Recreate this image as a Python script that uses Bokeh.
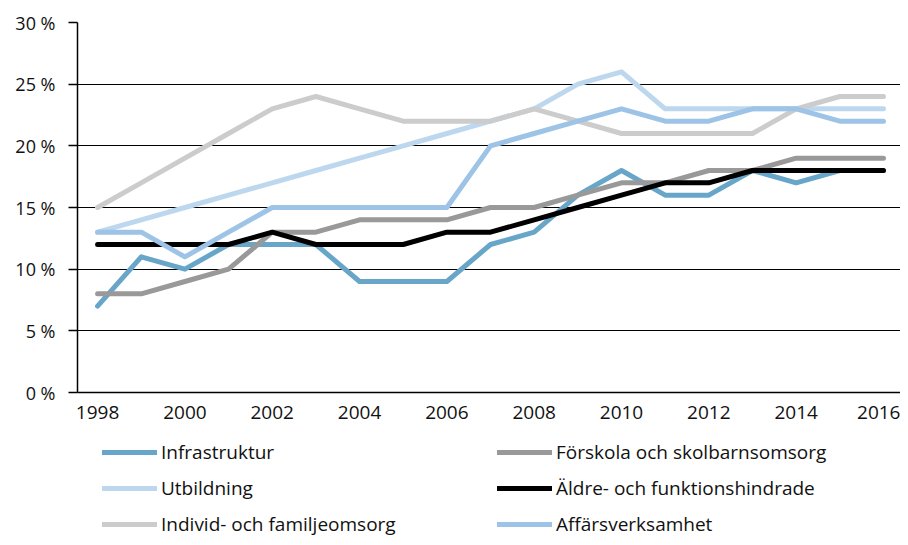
from bokeh.plotting import figure
from bokeh.layouts import column
from bokeh.models import Range1d, FixedTicker, Legend, LegendItem
from bokeh.embed import file_html
from bokeh.resources import INLINE

years = list(range(1998, 2017))
infrastruktur = [7, 11, 10, 12, 12, 12, 9, 9, 9, 12, 13, 16, 18, 16, 16, 18, 17, 18, 18]
forskola = [8, 8, 9, 10, 13, 13, 14, 14, 14, 15, 15, 16, 17, 17, 18, 18, 19, 19, 19]
utbildning = [13, 14, 15, 16, 17, 18, 19, 20, 21, 22, 23, 25, 26, 23, 23, 23, 23, 23, 23]
aldre = [12, 12, 12, 12, 13, 12, 12, 12, 13, 13, 14, 15, 16, 17, 17, 18, 18, 18, 18]
individ = [15, 17, 19, 21, 23, 24, 23, 22, 22, 22, 23, 22, 21, 21, 21, 21, 23, 24, 24]
affars = [13, 13, 11, 13, 15, 15, 15, 15, 15, 20, 21, 22, 23, 22, 22, 23, 23, 22, 22]

names = ["Infrastruktur", "Förskola och skolbarnsomsorg", "Utbildning",
         "Äldre- och funktionshindrade", "Individ- och familjeomsorg", "Affärsverksamhet"]
series = [infrastruktur, forskola, utbildning, aldre, individ, affars]
colors = ["#68a6c9", "#999999", "#bdd7ee", "#000000", "#cccccc", "#9dc3e6"]

y_ticks = [0, 5, 10, 15, 20, 25, 30]
y_labels = ["0 %", "5 %", "10 %", "15 %", "20 %", "25 %", "30 %"]
x_ticks = list(range(1998, 2017, 2))

FONT = "Open Sans"
LW = 5

p = figure(width=900, height=432, output_backend="svg", toolbar_location=None,
           x_range=Range1d(1997.54, 2016.39), y_range=Range1d(0, 30),
           min_border_left=77, min_border_right=0, min_border_top=22, min_border_bottom=40)
p.outline_line_color = None

p.xaxis.ticker = FixedTicker(ticks=x_ticks)
p.xaxis.major_tick_out = 0
p.xaxis.major_tick_in = 0
p.xaxis.minor_tick_out = 0
p.xaxis.minor_tick_in = 0
p.xaxis.axis_line_color = "#000000"
p.xaxis.axis_line_width = 1.3
p.xaxis.major_label_standoff = 13
p.xaxis.major_label_text_font = FONT
p.xaxis.major_label_text_font_size = "19px"
p.xaxis.major_label_text_color = "#111111"

p.yaxis.ticker = FixedTicker(ticks=y_ticks)
p.yaxis.major_label_overrides = {t: l for t, l in zip(y_ticks, y_labels)}
p.yaxis.major_tick_out = 9
p.yaxis.major_tick_in = 0
p.yaxis.minor_tick_out = 0
p.yaxis.minor_tick_in = 0
p.yaxis.major_tick_line_color = "#000000"
p.yaxis.major_tick_line_width = 1.3
p.yaxis.axis_line_color = "#000000"
p.yaxis.axis_line_width = 1.5
p.yaxis.major_label_standoff = 13
p.yaxis.major_label_text_font = FONT
p.yaxis.major_label_text_font_size = "18px"
p.yaxis.major_label_text_color = "#111111"

p.xgrid.grid_line_color = None
p.ygrid.ticker = FixedTicker(ticks=y_ticks)
p.ygrid.grid_line_color = "#000000"
p.ygrid.grid_line_width = 1.2

for name, vals, col in zip(names, series, colors):
    p.line(years, vals, line_color=col, line_width=LW, line_cap="round", line_join="round")

# legend panel (its frame aligns with the chart frame in the column layout);
# the series are drawn out of view here, only their legend entries show
q = figure(width=900, height=105, output_backend="svg", toolbar_location=None,
           x_range=Range1d(0, 1), y_range=Range1d(100, 101),
           min_border_left=0, min_border_right=0, min_border_top=0, min_border_bottom=0)
q.axis.visible = False
q.grid.visible = False
q.outline_line_color = None

leg_renderers = []
for name, vals, col in zip(names, series, colors):
    r = q.line(years, vals, line_color=col, line_width=LW, line_cap="round")
    leg_renderers.append(r)

def make_legend(idx, x):
    items = [LegendItem(label=names[i], renderers=[leg_renderers[i]]) for i in idx]
    return Legend(items=items, location=(x, 0), orientation="vertical",
                  glyph_width=55, glyph_height=20, label_height=20, spacing=10,
                  label_standoff=4, padding=0, margin=0,
                  border_line_color=None, background_fill_alpha=0,
                  label_text_font=FONT, label_text_font_size="19px",
                  label_text_color="#111111")

q.add_layout(make_legend([0, 2, 4], 25), "center")
q.add_layout(make_legend([1, 3, 5], 420), "center")

open("out.html", "w").write(file_html(column(p, q, spacing=0), INLINE))
